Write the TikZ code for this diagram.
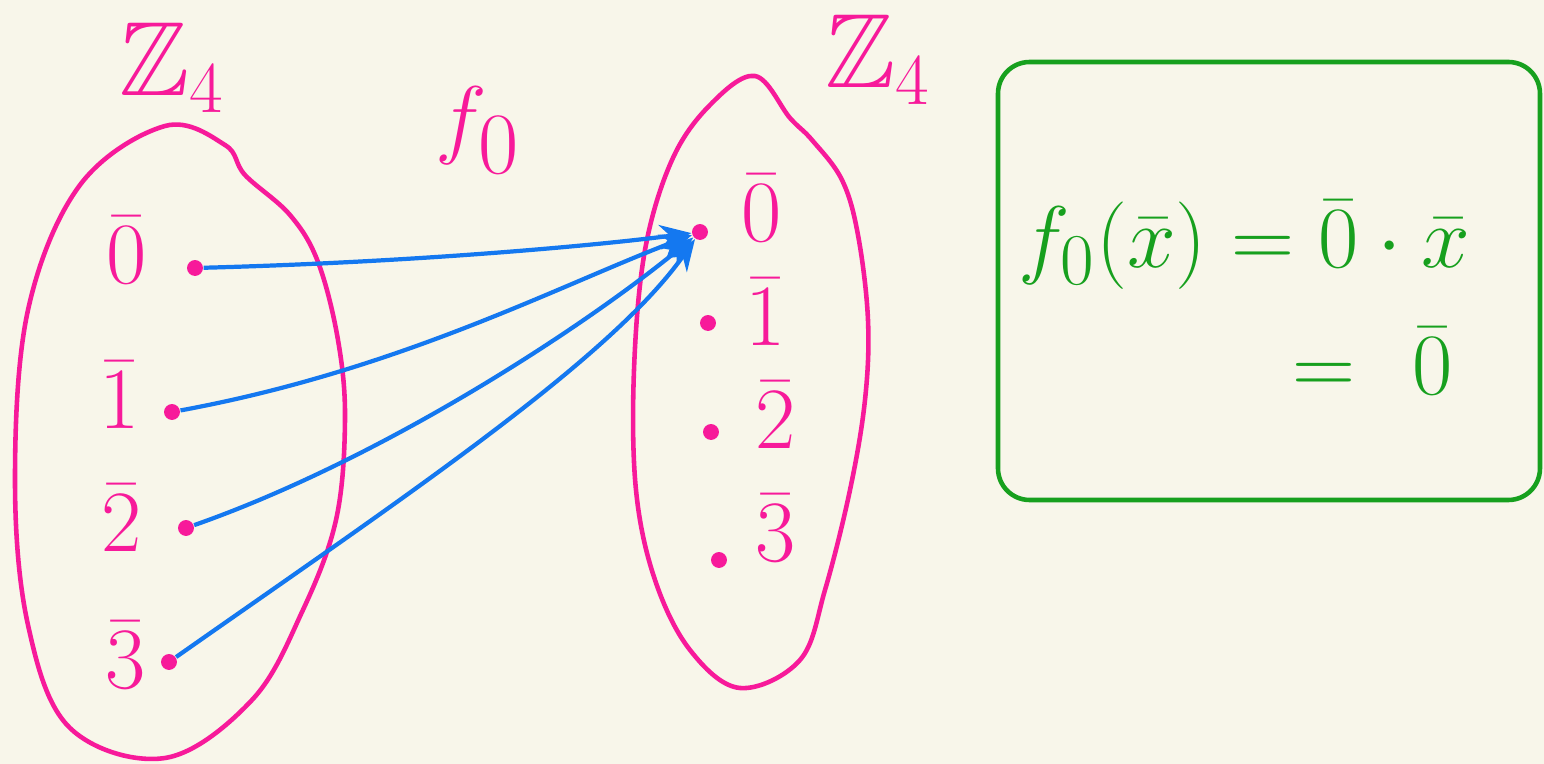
\documentclass[tikz,border=0pt]{standalone}
\usepackage{amssymb}
\usetikzlibrary{arrows.meta}
\definecolor{bg}{HTML}{F8F6EA}
\definecolor{pk}{HTML}{F71A9A}
\definecolor{bl}{HTML}{1478F0}
\definecolor{gr}{HTML}{17A01E}
\begin{document}
\begin{tikzpicture}[x=0.01cm,y=-0.01cm,
  blob/.style={draw=pk, line width=1.3pt},
  lbl/.style={text=pk, font=\fontsize{24}{28}\selectfont, inner sep=0pt},
  bigl/.style={text=pk, font=\fontsize{30}{34}\selectfont, inner sep=0pt},
  pt/.style={fill=pk, circle, inner sep=1.6pt},
  map/.style={draw=bl, line width=1.2pt, -{Stealth[length=9pt,width=7pt]}},
  eq/.style={text=gr, font=\fontsize{31}{35}\selectfont, inner sep=0pt},
  gbox/.style={draw=gr, line width=1.3pt, rounded corners=9pt}]
\fill[bg] (0,0) rectangle (1544,764);
\useasboundingbox (0,0) rectangle (1544,764);
% left blob
\draw[blob] plot[smooth cycle, tension=0.6] coordinates {(225,145) (245,175) (290,215) (318,262) (338,340) (345,420) (336,520) (302,612) (252,700) (165,758) (70,728) (28,625) (15,480) (28,310) (80,185) (165,126)};
% right blob
\draw[blob] plot[smooth cycle, tension=0.6] coordinates {(790,118) (812,140) (842,180) (858,235) (868,320) (865,400) (850,490) (825,590) (800,660) (740,688) (690,650) (655,580) (636,490) (634,370) (645,250) (672,160) (710,105) (755,76)};
% titles
\node[bigl] (zl) at (172,68) {$\mathbb{Z}_4$};
\node[bigl] (zr) at (878,60) {$\mathbb{Z}_4$};
\node[text=pk, font=\fontsize{42}{46}\selectfont, inner sep=0pt] (f) at (478,130) {$f_0$};
% left elements
\node[lbl] (a0) at (127,250) {$\bar{0}$};
\node[lbl] (a1) at (120,395) {$\bar{1}$};
\node[lbl] (a2) at (122,518) {$\bar{2}$};
\node[lbl] (a3) at (126,655) {$\bar{3}$};
% right elements
\node[lbl] (b0) at (762,208) {$\bar{0}$};
\node[lbl] (b1) at (766,312) {$\bar{1}$};
\node[lbl] (b2) at (776,415) {$\bar{2}$};
\node[lbl] (b3) at (776,528) {$\bar{3}$};
% dots
\node[pt] (p0) at (195,268) {};
\node[pt] (p1) at (172,412) {};
\node[pt] (p2) at (186,528) {};
\node[pt] (p3) at (169,662) {};
\node[pt] (q0) at (700,232) {};
\node[pt] (q1) at (708,323) {};
\node[pt] (q2) at (711,432) {};
\node[pt] (q3) at (719,560) {};
% maps
\draw[map] (p0) .. controls (420,262) and (600,245) .. (q0);
\draw[map] (p1) .. controls (400,370) and (560,285) .. (q0);
\draw[map] (p2) .. controls (380,460) and (580,330) .. (q0);
\draw[map] (p3) .. controls (400,500) and (610,360) .. (q0);
% green box
\draw[gbox] (998,62) rectangle (1540,500);
\node[eq, anchor=base west] (e1) at (1018,268) {$f_0(\bar{x}) = \bar{0}\cdot\bar{x}$};
\node[eq, anchor=base west] (e2) at (1292,395) {$=\ \bar{0}$};
\end{tikzpicture}
\end{document}
